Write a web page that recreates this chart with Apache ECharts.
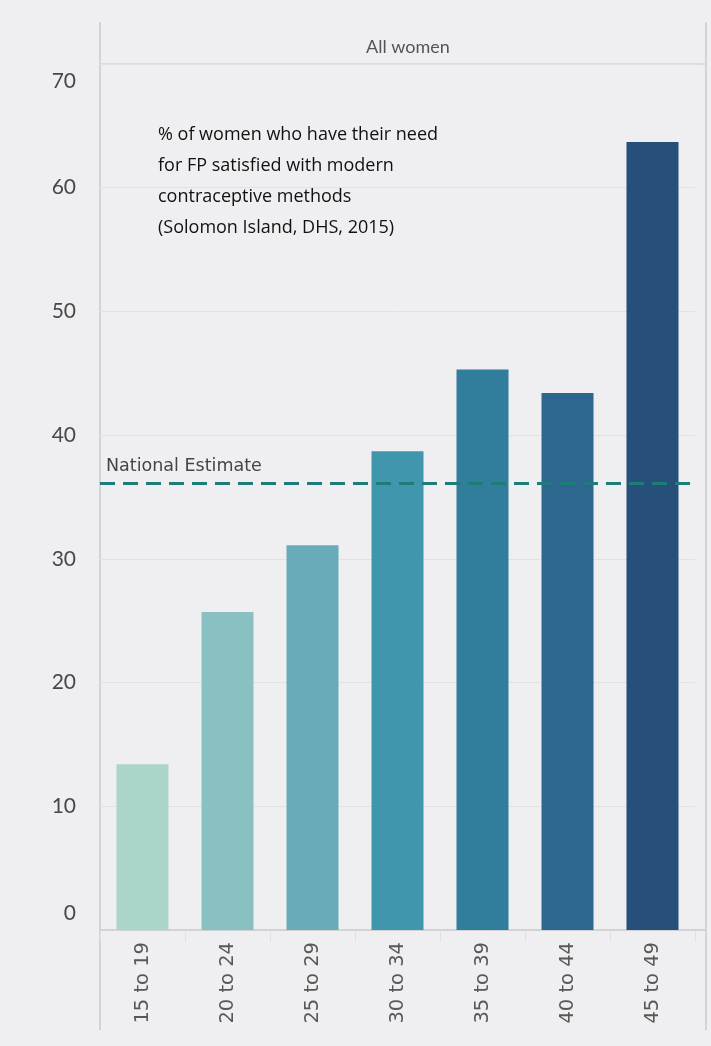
<!DOCTYPE html>
<html>
<head>
<meta charset="utf-8">
<script src="https://cdn.jsdelivr.net/npm/echarts@6/dist/echarts.min.js"></script>
<style>
  html, body { margin: 0; padding: 0; background: #efeff1; }
  #chart { width: 711px; height: 1046px; }
</style>
</head>
<body>
<div id="chart"></div>
<script>
// age groups and % with need satisfied
const ageGroups = ['15 to 19', '20 to 24', '25 to 29', '30 to 34', '35 to 39', '40 to 44', '45 to 49']
const satisfied = [13.4, 25.7, 31.1, 38.7, 45.3, 43.4, 63.7]
const barColors = ['#abd4ca', '#89c1c2', '#67acb8', '#4096ad', '#317d9c', '#2d678f', '#26507a']
const nationalEstimate = 36.1
const noteLines = [
  '% of women who have their need',
  'for FP satisfied with modern',
  'contraceptive methods',
  '(Solomon Island, DHS, 2015)'
]

const chart = echarts.init(document.getElementById('chart'))
const gridLeft = 100
const gridRight = 16
const frameRight = 706
const lineColor = '#cbcbce'

chart.setOption({
  backgroundColor: '#efeff1',
  animation: false,
  title: {
    text: 'All women',
    left: (gridLeft + frameRight) / 2,
    textAlign: 'center',
    top: 33,
    textStyle: { fontFamily: 'Lato', fontSize: 18, fontWeight: 'normal', color: '#555' }
  },
  grid: { left: gridLeft, right: gridRight, top: 64, bottom: 116 },
  xAxis: {
    type: 'category',
    data: ageGroups,
    axisLine: { show: true, lineStyle: { color: lineColor, width: 1.5 } },
    axisTick: { show: true, length: 12, lineStyle: { color: '#e0e0e3' } },
    axisLabel: {
      rotate: 90,
      margin: 12,
      fontFamily: 'DejaVu Sans',
      fontSize: 19.5,
      color: '#585858'
    }
  },
  yAxis: {
    type: 'value',
    min: 0,
    max: 70,
    interval: 10,
    axisLine: { show: false },
    axisTick: { show: false },
    splitLine: { show: true, lineStyle: { color: '#e2e2e5', width: 1 } },
    axisLabel: {
      margin: 24,
      fontFamily: 'Lato',
      fontSize: 21,
      color: '#484848',
      // the end labels sit inside the plot in the original
      formatter: v => v === 70 ? '{hi|' + v + '}' : v === 0 ? '{lo|' + v + '}' : String(v),
      rich: {
        hi: { fontFamily: 'Lato', fontSize: 21, color: '#484848', padding: [34, 0, 0, 0] },
        lo: { fontFamily: 'Lato', fontSize: 21, color: '#484848', padding: [0, 0, 34, 0] }
      }
    }
  },
  series: [{
    type: 'bar',
    barWidth: 52,
    data: satisfied.map((v, i) => ({ value: v, itemStyle: { color: barColors[i] } })),
    markLine: {
      symbol: 'none',
      silent: true,
      lineStyle: { color: '#1d7d79', type: [15, 8], width: 3 },
      label: {
        show: true,
        position: 'insideStartTop',
        formatter: 'National Estimate',
        fontFamily: 'DejaVu Sans',
        fontSize: 17.5,
        color: '#454545',
        distance: [6, 8]
      },
      data: [{ yAxis: nationalEstimate }]
    }
  }],
  graphic: [
    // frame lines of the panel
    { type: 'line', shape: { x1: gridLeft, y1: 22, x2: gridLeft, y2: 1030 }, style: { stroke: lineColor, lineWidth: 1.5 }, z: 0 },
    { type: 'line', shape: { x1: frameRight, y1: 22, x2: frameRight, y2: 1030 }, style: { stroke: lineColor, lineWidth: 1.5 }, z: 0 },
    { type: 'line', shape: { x1: gridLeft, y1: 64, x2: frameRight, y2: 64 }, style: { stroke: '#d6d6d9', lineWidth: 1.5 }, z: 0 },
    { type: 'line', shape: { x1: 711 - gridRight, y1: 930, x2: frameRight, y2: 930 }, style: { stroke: lineColor, lineWidth: 1.5 }, z: 0 },
    {
      type: 'text',
      left: 158,
      top: 119,
      style: {
        text: noteLines.join('\n'),
        font: '18px "Open Sans"',
        fill: '#111',
        lineHeight: 31
      },
      z: 10
    }
  ]
})
</script>
</body>
</html>
